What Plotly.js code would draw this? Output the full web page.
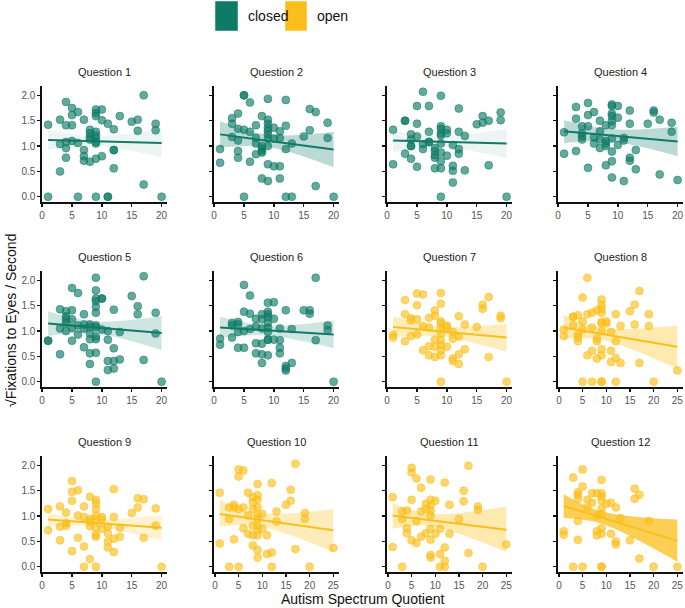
<!DOCTYPE html>
<html>
<head>
<meta charset="utf-8">
<script src="https://cdn.plot.ly/plotly-3.0.1.min.js"></script>
<style>html,body{margin:0;padding:0;background:#fff;}#chart{width:685px;height:608px;}</style>
</head>
<body>
<div id="chart"></div>
<script>
// ---------- data ----------
const questions = ['Question 1','Question 2','Question 3','Question 4','Question 5','Question 6',
  'Question 7','Question 8','Question 9','Question 10','Question 11','Question 12'];
const condition = ['closed','closed','closed','closed','closed','closed','open','open','open','open','open','open'];

const q1X = [1,1,4,3,4,5,5,6,5,7,3,4,4,5,6,4,3,6,7,7,7,8,8,8,8,8,9,9,9,9,9,9,9,9,9,9,10,10,10,11,11,11,12,12,12,12,13,15,16,16,17,17,19,19,20];
const q1Y = [1.42,0,1.87,1.52,1.41,1.75,1.61,1.67,1.41,1.52,1.04,1.08,0.96,1.10,1.06,0.77,0.50,0,0.92,0.80,0.71,0.69,1.32,1.25,1.18,1.13,1.28,1.21,1.15,1.08,1.05,1.72,1.65,1.59,0.75,0,1.72,1.51,0.80,1.44,0,0,1.33,0.92,0.92,0.56,1.59,1.48,1.52,1.30,2.0,0.24,1.44,1.31,0];

const q2X = [1,1,3,3,3,4,4,4,4,4,5,5,5,5,6,6,6,7,7,7,7,8,8,8,8,8,8,9,9,9,9,9,9,9,9,9,9,10,10,10,11,11,11,11,12,12,12,12,13,13,15,16,16,17,17,19,19,20];
const q2Y = [0.94,0.67,1.55,1.44,1.18,1.64,1.34,1.11,0.90,0.77,2.0,2.0,1.32,0,1.86,1.28,0.69,1.41,1.16,1.05,0.84,1.59,1.0,0.95,0.90,0.87,0.36,1.93,1.52,1.44,1.36,1.30,1.23,1.15,1.0,0.64,0.31,1.36,1.15,0.60,1.29,1.16,0.60,0.36,1.91,1.40,0.94,0,1.05,0,1.19,1.73,1.31,1.67,0.21,1.46,1.16,0];

const q3X = [1,1,3,3,3,4,4,4,4,4,5,5,5,5,6,6,6,7,7,7,7,8,8,8,8,8,9,9,9,9,9,9,9,9,9,9,10,10,10,11,11,11,11,12,12,12,12,13,13,15,16,16,17,17,19,19,20];
const q3Y = [1.32,0.64,1.50,1.50,0.85,1.23,1.13,1.0,1.0,0.75,1.79,1.44,1.19,0.59,2.07,1.04,0.94,1.79,1.28,1.08,1.08,0.96,0.90,0.82,0.77,0.56,1.99,1.39,1.34,1.25,1.21,1.05,0.87,0.70,0.56,0,1.32,1.25,0.81,1.02,0.61,0.51,0.28,1.74,1.28,0.94,0.85,1.20,0.52,1.43,1.59,1.46,1.50,0.62,1.66,1.51,0];

const q4X = [1,1,3,3,3,4,4,4,4,5,5,5,5,6,6,6,7,7,7,7,8,8,8,8,8,9,9,9,9,9,9,9,9,9,9,10,10,10,11,11,11,12,12,12,12,13,13,15,16,16,17,17,19,19,20];
const q4Y = [1.27,0.85,1.77,1.54,0.90,1.39,1.25,1.19,1.13,1.85,1.61,1.39,0.57,1.67,1.17,1.05,1.50,1.29,1.13,0.96,1.41,1.10,1.05,1.0,0.62,1.82,1.79,1.64,1.59,1.49,1.41,1.15,0.89,0.70,0.38,1.79,1.56,1.02,1.16,1.11,0.31,1.70,1.44,0.77,0.71,0.92,0.54,1.44,1.70,1.66,1.52,0.44,1.46,1.28,0.33];

const q5X = [1,1,3,3,3,4,4,4,4,4,5,5,5,5,5,6,6,6,7,7,7,7,8,8,8,8,8,8,9,9,9,9,9,9,9,9,9,9,9,9,10,10,10,11,11,11,11,12,12,12,12,13,13,15,16,16,17,17,19,19,20];
const q5Y = [0.81,0.81,1.43,1.05,0.54,1.39,1.29,1.23,1.16,1.0,1.85,1.41,1.23,1.06,0.81,1.75,1.11,0.93,1.33,1.13,1.05,0.68,1.13,1.08,0.95,0.84,0.56,0.35,2.05,1.80,1.64,1.59,1.48,1.36,1.11,1.07,0.89,0.84,0.57,0,1.64,1.64,1.03,1.0,0.83,0.41,0.23,1.42,0.66,0.41,0.26,0.98,0.44,1.69,1.49,1.33,2.08,0.43,1.36,0.95,0];

const q6X = [1,1,3,3,3,4,4,4,4,5,5,5,5,6,6,6,7,7,7,7,8,8,8,8,8,8,9,9,9,9,9,9,9,9,9,9,10,10,10,11,11,11,11,12,12,12,12,13,13,15,16,16,17,17,19,19,20];
const q6Y = [0.85,0.73,1.16,1.11,0.87,1.18,1.13,0.98,0.67,1.91,1.38,1.0,0.67,1.70,1.34,1.04,1.24,1.09,0.76,0.56,1.33,1.23,1.05,0.75,0.54,0.37,1.56,1.38,1.33,1.27,1.16,1.07,0.98,0.83,0.83,0.52,1.57,1.24,0.83,1.05,0.82,0.67,0.56,1.41,0.31,0.26,0.22,1.04,0.37,1.41,1.41,1.34,2.05,0.82,1.11,1.02,0];

const q7X = [1,1,3,3,3,4,4,4,5,5,5,5,6,6,6,7,7,7,7,8,8,8,8,8,9,9,9,9,9,9,9,9,9,9,9,10,10,10,11,11,11,11,12,12,12,12,13,13,15,16,16,17,17,19,19,20];
const q7Y = [0.93,0.87,1.61,1.33,0.80,1.25,1.21,0.90,1.74,1.51,1.23,0.93,1.72,1.10,0.62,1.26,1.07,0.70,0.52,1.41,1.30,0.83,0.69,0.49,1.75,1.54,1.19,1.15,1.05,0.95,0.82,0.72,0.62,0.52,0,1.11,1.07,0.69,0.98,0.85,0.46,0.41,1.29,0.89,0.54,0.35,1.13,0.64,1.08,1.52,1.44,1.67,0.49,1.30,1.25,0];

const q8X = [1,1,3,3,3,4,4,4,4,5,5,5,5,6,6,6,7,7,7,7,8,8,8,8,9,9,9,9,9,9,9,9,9,9,9,10,10,11,11,11,12,12,12,12,13,13,15,16,16,17,17,19,19,20,25];
const q8Y = [1.03,0.90,1.28,1.28,1.11,1.31,0.92,0.87,0.80,1.66,1.19,1.03,0,2.05,1.33,0.52,1.36,1.07,0.61,0,1.41,0.85,0.80,0.46,1.62,1.52,1.44,1.36,1.18,1.15,1.0,0.64,0.52,0,0,1.19,1.15,0.98,0.61,0.39,1.33,0.80,0.47,0,1.10,0.37,1.39,1.52,1.13,1.79,0.37,1.33,1.10,0,0.22];

const q9X = [1,1,3,3,3,4,4,4,5,5,5,5,6,6,6,7,7,7,7,8,8,8,8,8,9,9,9,9,9,9,9,9,9,10,10,10,11,11,11,11,12,12,12,12,13,13,15,16,16,17,17,19,19,20];
const q9Y = [1.14,0.72,1.19,0.79,0.52,1.07,0.86,0.81,1.69,1.48,1.30,0.31,1.51,1.01,0.57,1.19,0.98,0.40,0,1.38,0.94,0.89,0.80,0.15,1.32,1.25,1.14,1.01,0.94,0.77,0.63,0.59,0,0.98,0.93,0.75,0.79,0.66,0.50,0.38,1.53,0.98,0.55,0.29,0.77,0.59,1.06,1.35,1.17,1.33,0.57,1.15,0.81,0];

const q10X = [1,1,3,3,3,4,4,4,5,5,5,5,6,6,6,7,7,7,8,8,8,8,8,8,9,9,9,9,9,9,9,9,9,9,9,10,10,11,11,12,12,12,13,13,15,16,16,17,17,19,19,20,25];
const q10Y = [1.46,0.46,1.17,0.94,0,1.22,1.17,0.54,1.92,1.78,1.14,0,1.90,1.17,0.76,1.46,1.01,0.65,1.37,1.27,1.14,0.81,0.62,0.42,1.63,1.41,1.32,1.17,1.02,0.94,0.81,0.72,0.62,0.33,0.18,1.04,0.75,0.62,0.25,1.65,0.28,0,1.09,0.89,1.22,1.52,1.30,2.03,0.35,1.06,0.94,0,0.37];

const q11X = [1,1,3,3,3,4,4,4,5,5,5,5,6,6,6,7,7,7,8,8,8,9,9,9,9,9,9,9,9,9,10,10,11,11,11,12,12,12,12,13,13,15,16,16,17,17,19,19,20,25];
const q11Y = [1.37,0.39,1.09,0.94,0,1.11,0.76,0.66,1.95,1.86,1.32,0.52,1.74,0.90,0.47,1.56,1.09,0.59,1.24,1.14,0.66,1.72,1.32,1.21,1.11,1.01,0.75,0.53,0.23,0.18,1.30,0.65,0.75,0.25,0,1.66,0.38,0.12,0,1.22,0.65,0.94,1.50,1.29,1.99,0.27,1.19,1.12,0,0.44];

const q12X = [1,1,3,3,4,4,4,4,4,5,5,5,6,6,7,7,8,8,8,8,9,9,9,9,9,9,9,9,9,9,10,11,11,12,12,12,13,15,16,16,17,17,19,20,25];
const q12Y = [0.70,0.63,1.76,0,1.47,1.42,1.34,0.90,0.53,1.92,1.58,0,1.32,1.17,1.45,1.26,1.45,1.01,0.70,0.62,1.71,1.45,1.39,1.30,1.15,1.04,0.76,0.65,0,0,1.24,1.26,0.65,1.17,0.50,0.44,0.96,0.52,1.54,1.34,1.42,0.16,0.90,0,0];

// regression fit (line endpoints and CI band at start / middle / end)
const fitXStart = [1,1,1,1,1,1,1,1,1,1,1,1];
const fitXMid   = [9,9,9,9,9,9,9,9,9,9,9,9];
const fitXEnd   = [20,20,20,20,20,20,20,25,20,25,25,25];
const fitYStart = [1.12,1.23,1.11,1.29,1.15,1.07,1.08,1.07,0.93,1.04,1.01,1.20];
const fitYEnd   = [1.06,0.93,1.05,1.09,0.96,0.93,0.87,0.69,0.77,0.72,0.73,0.51];
const bandLoStart = [0.92,0.97,0.88,1.06,0.90,0.87,0.88,0.85,0.80,0.79,0.75,0.96];
const bandLoMid   = [1.00,0.98,0.98,1.09,0.95,0.91,0.89,0.83,0.79,0.81,0.80,0.85];
const bandLoEnd   = [0.78,0.58,0.76,0.80,0.62,0.66,0.59,0.26,0.52,0.29,0.29,0.10];
const bandHiStart = [1.32,1.49,1.30,1.51,1.39,1.28,1.29,1.31,1.06,1.32,1.25,1.43];
const bandHiMid   = [1.19,1.22,1.19,1.33,1.19,1.11,1.09,1.06,0.94,1.06,1.04,1.09];
const bandHiEnd   = [1.34,1.28,1.34,1.38,1.29,1.21,1.14,1.11,1.01,1.14,1.19,0.93];

const allX = [q1X,q2X,q3X,q4X,q5X,q6X,q7X,q8X,q9X,q10X,q11X,q12X];
const allY = [q1Y,q2Y,q3Y,q4Y,q5Y,q6Y,q7Y,q8Y,q9Y,q10Y,q11Y,q12Y];

const yTickVals = [0,0.5,1,1.5,2];
const yTickText = ['0.0','0.5','1.0','1.5','2.0'];
const xTicks20 = [0,5,10,15,20];
const xTicks25 = [0,5,10,15,20,25];

// ---------- styles ----------
const W = 685, H = 608;
const colPx = [[42,167],[214,339],[387,512],[558,683]];
const rowPx = [[86,202],[271,387],[456,572]];
const bandAlpha = [0.08,0.28,0.08,0.28,0.2,0.2,0.3,0.35,0.2,0.3,0.35,0.75];
const palette = {
  closed: {line:'#0f7b67', rgb:'15,123,103'},
  open:   {line:'#fbbf1b', rgb:'251,191,27'}
};
const FONT = 'Liberation Sans, Arial, Helvetica, sans-serif';

const traces = [];
const layout = {
  width: W, height: H,
  margin: {l:0,r:0,t:0,b:0},
  paper_bgcolor:'#fff', plot_bgcolor:'rgba(0,0,0,0)',
  showlegend:false,
  font:{family:FONT},
  annotations:[], shapes:[]
};

for (let i = 0; i < 12; i++) {
  const r = Math.floor(i/4), c = i % 4;
  const ax = i === 0 ? '' : String(i+1);
  const col = palette[condition[i]];
  const xa = 'x'+ax, ya = 'y'+ax;
  const is25 = fitXEnd[i] === 25;

  traces.push({
    type:'scatter', mode:'markers', x:allX[i], y:allY[i], xaxis:xa, yaxis:ya,
    marker:{size:8, color:'rgba('+col.rgb+',0.65)', line:{width:0.6, color:'rgba('+col.rgb+',0.8)'}},
    hoverinfo:'skip'
  });
  const bx = [fitXStart[i], fitXMid[i], fitXEnd[i]];
  traces.push({
    type:'scatter', mode:'lines', x:bx, y:[bandLoStart[i],bandLoMid[i],bandLoEnd[i]],
    xaxis:xa, yaxis:ya, line:{width:0, shape:'spline', color:'rgba(0,0,0,0)'}, hoverinfo:'skip'
  });
  traces.push({
    type:'scatter', mode:'lines', x:bx, y:[bandHiStart[i],bandHiMid[i],bandHiEnd[i]],
    xaxis:xa, yaxis:ya, fill:'tonexty', fillcolor:'rgba('+col.rgb+','+bandAlpha[i]+')',
    line:{width:0, shape:'spline', color:'rgba(0,0,0,0)'}, hoverinfo:'skip'
  });
  traces.push({
    type:'scatter', mode:'lines', x:[fitXStart[i], fitXEnd[i]], y:[fitYStart[i], fitYEnd[i]],
    xaxis:xa, yaxis:ya, line:{width:2, color:col.line}, hoverinfo:'skip'
  });

  const axCommon = {
    showline:true, linecolor:'#111', linewidth:1.6, ticks:'outside', ticklen:3, tickwidth:1.3,
    tickcolor:'#111', showgrid:false, zeroline:false, tickfont:{size:10, color:'#555', family:FONT}
  };
  layout['xaxis'+ax] = Object.assign({}, axCommon, {
    domain:[colPx[c][0]/W, colPx[c][1]/W], anchor:ya,
    range: is25 ? [-0.2, 26.2] : [-0.02, 20.9],
    tickmode:'array', tickvals: is25 ? xTicks25 : xTicks20
  });
  layout['yaxis'+ax] = Object.assign({}, axCommon, {
    domain:[1 - rowPx[r][1]/H, 1 - rowPx[r][0]/H], anchor:xa,
    range:[-0.104, 2.184], tickmode:'array', tickvals:yTickVals, ticktext:yTickText,
    showticklabels: c === 0
  });
  layout.annotations.push({
    text:questions[i], xref:'paper', yref:'paper',
    x:(colPx[c][0]+colPx[c][1])/2/W, y:1-(rowPx[r][0]-14)/H,
    xanchor:'center', yanchor:'middle', showarrow:false,
    font:{size:11, color:'#222', family:FONT}
  });
}

// axis titles
layout.annotations.push({
  text:'Autism Spectrum Quotient', xref:'paper', yref:'paper', x:363/W, y:0,
  xanchor:'center', yanchor:'bottom', borderpad:0, showarrow:false, font:{size:14, color:'#111', family:FONT}
});
layout.annotations.push({
  text:'√Fixations to Eyes / Second', xref:'paper', yref:'paper', x:11/W, y:1-321/H,
  xanchor:'center', yanchor:'middle', textangle:-90, showarrow:false, font:{size:14, color:'#111', family:FONT}
});

// legend (drawn manually)
const legendItems = [
  {label:'closed', sq:[215,238], tx:246, key:'closed'},
  {label:'open', sq:[285,307], tx:315, key:'open'}
];
legendItems.forEach(it => {
  layout.shapes.push({
    type:'rect', xref:'paper', yref:'paper',
    x0:it.sq[0]/W, x1:it.sq[1]/W, y0:1-31/H, y1:1-1/H,
    fillcolor:palette[it.key].line, line:{width:0.8, color:'rgba(255,255,255,0.6)'}
  });
  layout.annotations.push({
    text:it.label, xref:'paper', yref:'paper', x:it.tx/W, y:1-16/H,
    xanchor:'left', yanchor:'middle', showarrow:false, font:{size:14, color:'#111', family:FONT}
  });
});

Plotly.newPlot('chart', traces, layout, {staticPlot:true, displayModeBar:false});
</script>
</body>
</html>
